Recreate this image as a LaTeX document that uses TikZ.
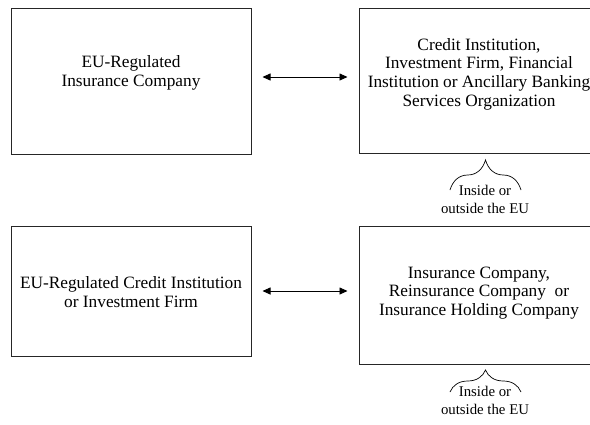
\documentclass[tikz,border=0pt]{standalone}
\usepackage{fontspec}
\setmainfont{Liberation Serif}
\usetikzlibrary{arrows.meta,decorations.pathreplacing}

\begin{document}
\begin{tikzpicture}[x=1pt,y=-1pt]
\tikzstyle{every node}=[font=\fontsize{17.3}{18.7}\selectfont, align=center]
\tikzstyle{box}=[draw=black!85, line width=1pt, minimum width=240pt, inner sep=0pt]
\tikzstyle{note}=[font=\fontsize{14.8}{18}\selectfont]
\tikzstyle{link}=[{Triangle[length=8pt,width=7pt]}-{Triangle[length=8pt,width=7pt]}, line width=0.8pt, shorten <=11pt, shorten >=11pt]
\tikzstyle{curly}=[decorate, decoration={brace, amplitude=30pt}, line width=0.7pt]
\useasboundingbox (0,0) rectangle (590,424);
\clip (0,0) rectangle (590,424);
% boxes
\node [box, minimum height=146pt] (insco) at (131,81) {};
\node [box, minimum height=145pt] (credit) at (479,80.5) {};
\node [box, minimum height=130pt] (bank) at (131,291) {};
\node [box, minimum height=138pt] (holding) at (479,295) {};
% texts
\node (inscoT) at (131,73) {EU-Regulated\\Insurance Company};
\node (creditT) at (479,74) {Credit Institution,\\Investment Firm, Financial\\Institution or Ancillary Banking\\Services Organization};
\node (bankT) at (131,292) {EU-Regulated Credit Institution\\or Investment Firm};
\node (holdingT) at (479,293) {Insurance Company,\\Reinsurance Company~~or\\Insurance Holding Company};
% arrows
\draw [link] ([yshift=4pt]insco.east) -- ([yshift=3.5pt]credit.west);
\draw [link] (bank.east) -- (bank.east -| holding.west);
% braces
\draw [curly] (450,190) -- (521,190);
\node [note] (where1) at (485,199) {Inside or\\outside the EU};
\draw [curly, decoration={amplitude=22pt}] (450,392) -- (521,392);
\node [note] (where2) at (485,400) {Inside or\\outside the EU};
\end{tikzpicture}
\end{document}
